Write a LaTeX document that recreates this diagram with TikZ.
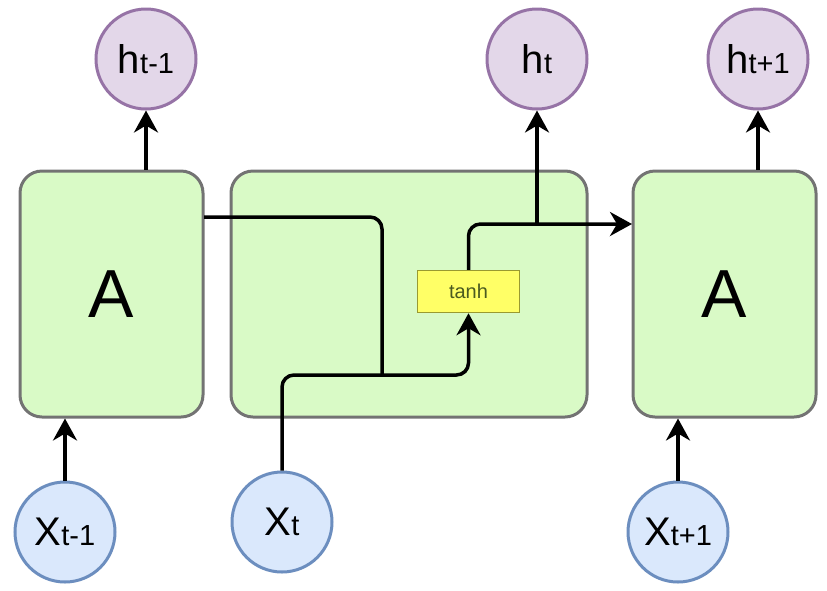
\documentclass[tikz,border=0pt]{standalone}
\usepackage{fontspec}
\setmainfont{Liberation Sans}
\usetikzlibrary{arrows.meta}
\definecolor{boxfill}{HTML}{D9FAC6}
\definecolor{boxdraw}{HTML}{737373}
\definecolor{hfill}{HTML}{E3D7E9}
\definecolor{hdraw}{HTML}{9673A6}
\definecolor{xfill}{HTML}{DAE8FC}
\definecolor{xdraw}{HTML}{6C8EBF}
\definecolor{tfill}{HTML}{FFFF66}
\definecolor{tdraw}{HTML}{9A9A30}
\definecolor{ttext}{HTML}{4A5A20}
\newcommand{\lblbig}[1]{\fontsize{40}{40}\selectfont #1}
\newcommand{\lblsml}[1]{\fontsize{29}{29}\selectfont #1}
\begin{document}
\begin{tikzpicture}[x=1pt,y=-1pt,
  cell/.style={draw=boxdraw,fill=boxfill,line width=3pt,rounded corners=22pt,minimum height=246pt,inner sep=0pt},
  hcirc/.style={circle,draw=hdraw,fill=hfill,line width=3pt,minimum size=100pt,inner sep=0pt},
  xcirc/.style={circle,draw=xdraw,fill=xfill,line width=3pt,minimum size=100pt,inner sep=0pt},
  act/.style={draw=tdraw,fill=tfill,line width=1.5pt,minimum width=102pt,minimum height=42pt,inner sep=0pt,text=ttext,font=\fontsize{20}{20}\selectfont},
  wire/.style={line width=3.5pt,black},
  arr/.style={wire,-{Stealth[length=22pt,width=24pt,inset=7pt]}}
]
\useasboundingbox (0,0) rectangle (827,590);
\node[cell,minimum width=183pt] (A1) at (111.5,294) {\fontsize{68}{68}\selectfont A};
\node[cell,minimum width=356pt] (A2) at (409,294) {};
\node[cell,minimum width=183pt] (A3) at (724.5,294) {\fontsize{68}{68}\selectfont A};
\node[act] (tanh) at (468.5,291.5) {tanh};
\node[hcirc] (h1) at (146,59) {\lblbig{h}\lblsml{t-1}};
\node[hcirc] (h2) at (537,59) {\lblbig{h}\lblsml{t}};
\node[hcirc] (h3) at (758,59) {\lblbig{h}\lblsml{t+1}};
\node[xcirc] (x1) at (65,532) {\lblbig{X}\lblsml{t-1}};
\node[xcirc] (x2) at (282,522) {\lblbig{X}\lblsml{t}};
\node[xcirc] (x3) at (678,532) {\lblbig{X}\lblsml{t+1}};
\coordinate (out1) at (204,217);
\coordinate (j1) at (382,375);
\coordinate (in3) at (632,224);
\draw[arr] (A1.north -| h1) -- (h1.south);
\draw[arr] (x1.north) -- (x1 |- A1.south);
\draw[arr] (x3.north) -- (x3 |- A3.south);
\draw[arr] (A3.north -| h3) -- (h3.south);
\draw[wire,rounded corners=12pt] (out1) -| (j1);
\draw[arr,rounded corners=12pt] (x2.north) |- (tanh.south |- j1) -- (tanh.south);
\draw[arr,rounded corners=12pt] (tanh.north) |- (in3);
\draw[arr] (h2 |- in3) -- (h2.south);
\end{tikzpicture}
\end{document}
